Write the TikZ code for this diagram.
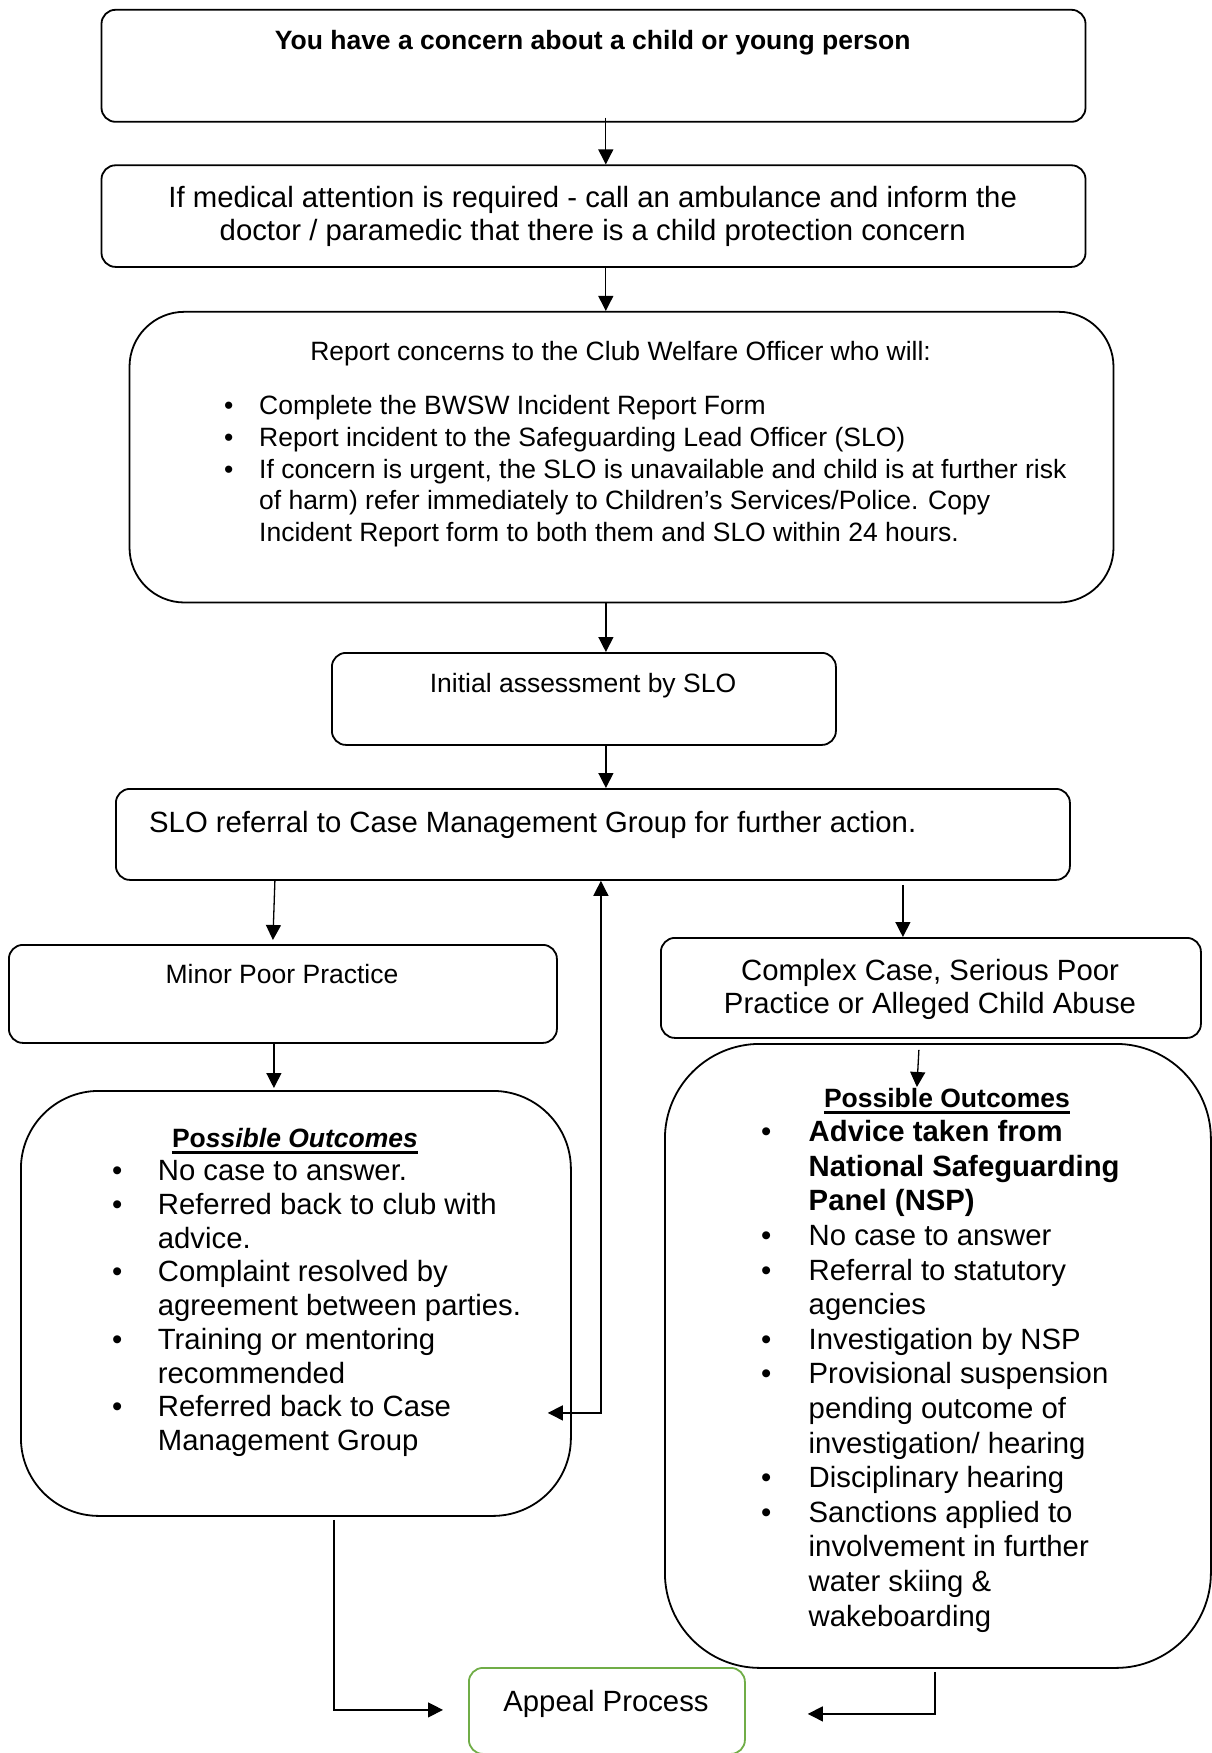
\documentclass[tikz,border=0pt]{standalone}
\usepackage{fontspec}
\setmainfont{Liberation Sans}
\usetikzlibrary{arrows.meta}
\definecolor{appealgreen}{HTML}{70AD47}
\newcommand{\fsBig}{\fontsize{29.3pt}{33pt}\selectfont}
\newcommand{\fsSmall}{\fontsize{26.5pt}{31.75pt}\selectfont}
\newcommand{\bul}[1]{\makebox[#1][l]{•}}
\begin{document}
\begin{tikzpicture}[x=1pt,y=-1pt,
  rbox/.style={draw, line width=1.8pt, rounded corners=#1, inner sep=0pt, anchor=north west},
  rbox/.default=14pt,
  txt/.style={inner sep=0pt, align=center},
  tip/.tip={Triangle[length=15pt,width=15pt]},
  arr/.style={line width=1.3pt, -tip},
  uline/.style={line width=2.5pt},
]
\useasboundingbox (0,0) rectangle (1211,1753);

% boxes
\node[rbox, minimum width=984pt, minimum height=112pt] (b1) at (100.6,8.9) {};
\node[rbox, minimum width=984pt, minimum height=101.6pt] (b2) at (100.6,164.4) {};
\node[rbox=55pt, minimum width=984pt, minimum height=290.7pt] (b3) at (128.6,310.9) {};
\node[rbox, minimum width=504pt, minimum height=92pt] (b4) at (331,652) {};
\node[rbox, minimum width=954pt, minimum height=91pt] (b5) at (115,788) {};
\node[rbox, minimum width=548pt, minimum height=98pt] (b6) at (8,944) {};
\node[rbox, minimum width=540pt, minimum height=100pt] (b7) at (660,937) {};
\node[rbox=78pt, minimum width=550pt, minimum height=425pt] (b8) at (20,1090) {};
\node[rbox=95pt, minimum width=546pt, minimum height=624pt] (b9) at (664,1043) {};
\node[rbox, draw=appealgreen, minimum width=276pt, minimum height=86pt] (ap) at (468,1667) {};

% texts
\node[txt, font=\fsSmall\bfseries, anchor=base] (t1) at (592.7,50) {You have a concern about a child or young person};
\node[txt, font=\fsBig, anchor=base] (t2) at (592.7,240.7) {If medical attention is required - call an ambulance and inform the\\doctor / paramedic that there is a child protection concern};
\node[txt, font=\fsSmall, anchor=base] (t3) at (620.6,360.7) {Report concerns to the Club Welfare Officer who will:};
\node[txt, font=\fsSmall, anchor=base west] (l3) at (224,414.7) {\begin{tabular}[t]{@{}l@{}l@{}}
\bul{35pt} & Complete the BWSW Incident Report Form\\
\bul{35pt} & Report incident to the Safeguarding Lead Officer (SLO)\\
\bul{35pt} & If concern is urgent, the SLO is unavailable and child is at further risk\\
 & of harm) refer immediately to Children’s Services/Police. Copy\\
 & Incident Report form to both them and SLO within 24 hours.
\end{tabular}};
\node[txt, font=\fsSmall, anchor=base] (t4) at (583,692.7) {Initial assessment by SLO};
\node[txt, font=\fsBig, anchor=base west] (t5) at (149,832.7) {SLO referral to Case Management Group for further action.};
\node[txt, font=\fsSmall, anchor=base] (t6) at (282,983.7) {Minor Poor Practice};
\node[txt, font=\fsBig, anchor=base] (t7) at (930,1013.7) {Complex Case, Serious Poor\\Practice or Alleged Child Abuse};
\node[txt, font=\fsSmall\bfseries, anchor=base] (h8) at (295,1147.7) {Po\textit{ssible Outcomes}};
\draw[uline] ([yshift=-5pt]h8.base west) -- ([yshift=-5pt]h8.base east);
\node[txt, font=\fontsize{29.3pt}{33.75pt}\selectfont, anchor=base west] (l8) at (112,1180.7) {\begin{tabular}[t]{@{}l@{}l@{}}
\bul{45.7pt} & No case to answer.\\
\bul{45.7pt} & Referred back to club with\\
 & advice.\\
\bul{45.7pt} & Complaint resolved by\\
 & agreement between parties.\\
\bul{45.7pt} & Training or mentoring\\
 & recommended\\
\bul{45.7pt} & Referred back to Case\\
 & Management Group
\end{tabular}};
\node[txt, font=\fsSmall\bfseries, anchor=base] (h9) at (947,1107.7) {Possible Outcomes};
\draw[uline] ([yshift=-5pt]h9.base west) -- ([yshift=-5pt]h9.base east);
\node[txt, font=\fontsize{29.3pt}{34.6pt}\selectfont, anchor=base west] (l9) at (761,1141.7) {\begin{tabular}[t]{@{}l@{}l@{}}
\bul{47.5pt} & \textbf{Advice taken from}\\
 & \textbf{National Safeguarding}\\
 & \textbf{Panel (NSP)}\\
\bul{47.5pt} & No case to answer\\
\bul{47.5pt} & Referral to statutory\\
 & agencies\\
\bul{47.5pt} & Investigation by NSP\\
\bul{47.5pt} & Provisional suspension\\
 & pending outcome of\\
 & investigation/ hearing\\
\bul{47.5pt} & Disciplinary hearing\\
\bul{47.5pt} & Sanctions applied to\\
 & involvement in further\\
 & water skiing \&\\
 & wakeboarding
\end{tabular}};
\node[txt, font=\fsBig, anchor=base] (tap) at (606,1711.7) {Appeal Process};

% connectors
\draw[arr] ([xshift=12.3pt,yshift=5pt]b1.south) -- ([xshift=12.3pt]b1.south |- b2.north);
\draw[arr] ([xshift=12.3pt]b2.south) -- ([xshift=12.3pt]b2.south |- b3.north);
\draw[arr] ([xshift=-15.6pt]b3.south) -- ([xshift=-15.6pt]b3.south |- b4.north);
\draw[arr] ([xshift=22pt]b4.south) -- ([xshift=22pt]b4.south |- b5.north);
\draw[arr] ([xshift=-318pt]b5.south) -- ([xshift=-10pt,yshift=4pt]b6.north);
\draw[arr] ([xshift=310pt,yshift=-4pt]b5.south) -- ([xshift=-28pt]b7.north);
\draw[arr] ([xshift=-9pt]b6.south) -- ([xshift=-22pt,yshift=2pt]b8.north);
\draw[arr] ([xshift=-12pt,yshift=-11pt]b7.south) -- ([xshift=-21pt,yshift=-44pt]b9.north);
\draw[line width=1.3pt, tip-tip] ([xshift=-24pt,yshift=-109.5pt]b8.east) -| ([xshift=8pt]b5.south);
\draw[arr] ([xshift=38pt,yshift=-3pt]b8.south) |- ([xshift=-25pt,yshift=1pt]ap.west);
\draw[arr] ([xshift=-3pt,yshift=-3pt]b9.south) |- ([xshift=62pt,yshift=-3pt]ap.east);
\end{tikzpicture}
\end{document}
